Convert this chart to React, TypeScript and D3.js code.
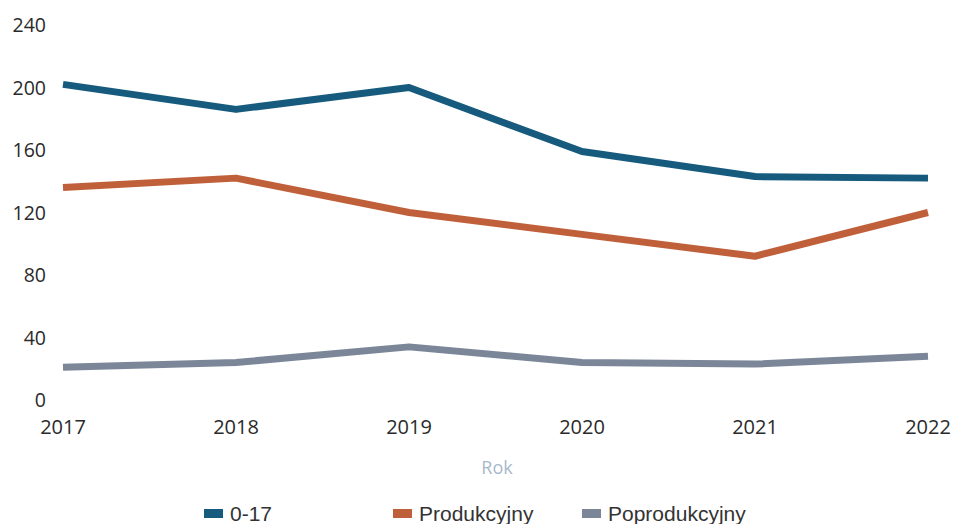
import React, { useEffect, useRef } from 'react';
import * as d3 from 'd3';

const years = ['2017', '2018', '2019', '2020', '2021', '2022'];
const kids = [202, 186, 200, 159, 143, 142];
const working = [136, 142, 120, 106, 92, 120];
const retired = [21, 24, 34, 24, 23, 28];
const yTicks = [0, 40, 80, 120, 160, 200, 240];

const series = [
  { name: '0-17', values: kids, color: '#165a7d' },
  { name: 'Produkcyjny', values: working, color: '#c0603b' },
  { name: 'Poprodukcyjny', values: retired, color: '#7b8799' },
];

const App: React.FC = () => {
  const ref = useRef<SVGSVGElement | null>(null);

  useEffect(() => {
    const svg = d3.select(ref.current);
    svg.selectAll('*').remove();

    const x = d3.scalePoint().domain(years).range([63, 928]);
    const y = d3.scaleLinear().domain([0, 240]).range([400, 25]);

    // y tick labels
    svg
      .selectAll('.ytick')
      .data(yTicks)
      .enter()
      .append('text')
      .attr('x', 46)
      .attr('y', (d) => y(d))
      .attr('dy', '0.36em')
      .attr('text-anchor', 'end')
      .style('font-family', '"Open Sans", sans-serif')
      .style('font-size', '19.5px')
      .style('fill', '#2a2a2a')
      .text((d) => d);

    // x tick labels
    svg
      .selectAll('.xtick')
      .data(years)
      .enter()
      .append('text')
      .attr('x', (d) => x(d)!)
      .attr('y', 434)
      .attr('text-anchor', 'middle')
      .style('font-family', '"Open Sans", sans-serif')
      .style('font-size', '20px')
      .style('fill', '#2a2a2a')
      .text((d) => d);

    svg
      .append('text')
      .attr('x', 497)
      .attr('y', 474)
      .attr('text-anchor', 'middle')
      .style('font-family', '"Open Sans", sans-serif')
      .style('font-size', '18px')
      .style('fill', '#a7b8cb')
      .text('Rok');

    const line = d3
      .line<number>()
      .x((_, i) => x(years[i])!)
      .y((d) => y(d));

    series.forEach((s) => {
      svg
        .append('path')
        .datum(s.values)
        .attr('d', line)
        .attr('fill', 'none')
        .attr('stroke', s.color)
        .attr('stroke-width', 7)
        .attr('stroke-linejoin', 'round');
    });

    // legend
    const legendX = [204, 393, 582];
    const lg = svg
      .selectAll('.legend')
      .data(series)
      .enter()
      .append('g')
      .attr('transform', (_, i) => `translate(${legendX[i]},513)`);
    lg.append('rect')
      .attr('x', 0)
      .attr('y', -4)
      .attr('width', 19)
      .attr('height', 9)
      .attr('fill', (d) => d.color);
    lg.append('text')
      .attr('x', 26)
      .attr('y', 0)
      .attr('dy', '0.36em')
      .style('font-family', '"Liberation Sans", Arial, sans-serif')
      .style('font-size', '21px')
      .style('fill', '#333')
      .text((d) => d.name);
  }, []);

  return (
    <svg
      ref={ref}
      width={954}
      height={524}
      style={{ position: 'absolute', left: 0, top: 0, background: '#fff' }}
    />
  );
};

export default App;
